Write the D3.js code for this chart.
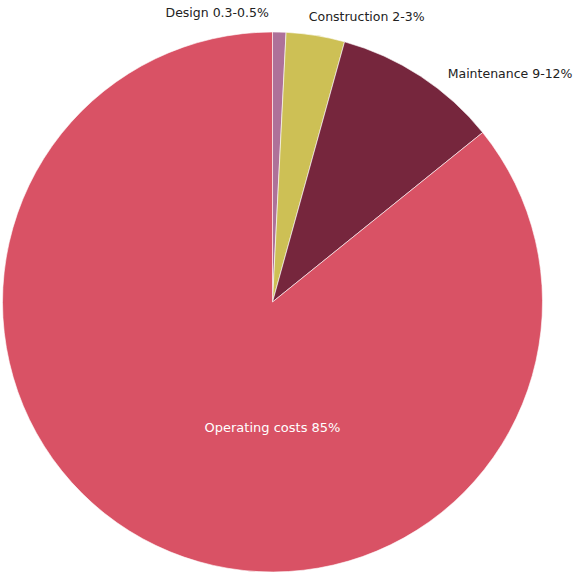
<!DOCTYPE html>
<html><head><meta charset="utf-8">
<script src="https://cdn.jsdelivr.net/npm/d3@7/dist/d3.min.js"></script>
<style>body{margin:0;background:#fff;}svg{display:block;}</style>
</head><body>
<script>
const categories = ["Design", "Construction", "Maintenance", "Operating costs"];
const labels = ["Design 0.3-0.5%", "Construction 2-3%", "Maintenance 9-12%", "Operating costs 85%"];
const values = [0.8, 3.5, 9.9, 85.8];
const colors = ["#ae7199", "#cdc055", "#76263d", "#d95265"];

const W = 575, H = 573, cx = 272.5, cy = 302, r = 270;
const svg = d3.select("body").append("svg").attr("width", W).attr("height", H);
const g = svg.append("g").attr("transform", `translate(${cx},${cy})`);

const pie = d3.pie().sort(null).value(d => d)(values);
const arc = d3.arc().innerRadius(0).outerRadius(r);

g.selectAll("path").data(pie).join("path")
  .attr("d", arc)
  .attr("fill", (d, i) => colors[i])
  .attr("stroke", "#fff").attr("stroke-width", 0.6);

const labelCfg = [
  {anchor: "end", dx: -11, dy: 1},
  {anchor: "start", dx: -10, dy: 1},
  {anchor: "start", dx: 16, dy: 14},
  {inside: true}
];
pie.forEach((d, i) => {
  const c = labelCfg[i];
  let x, y, anchor, fill;
  if (c.inside) { x = 0; y = 125; anchor = "middle"; fill = "#fff"; }
  else {
    const a = (d.startAngle + d.endAngle) / 2;
    x = Math.sin(a) * (r + 20) + c.dx;
    y = -Math.cos(a) * (r + 20) + c.dy;
    anchor = c.anchor; fill = "#222";
  }
  g.append("text").attr("x", x).attr("y", y)
    .attr("text-anchor", anchor)
    .attr("dy", "0.35em")
    .attr("font-family", "'DejaVu Sans', sans-serif")
    .attr("font-size", c.inside ? 13 : 12.5)
    .attr("fill", fill)
    .text(labels[i]);
});
</script>
</body></html>
